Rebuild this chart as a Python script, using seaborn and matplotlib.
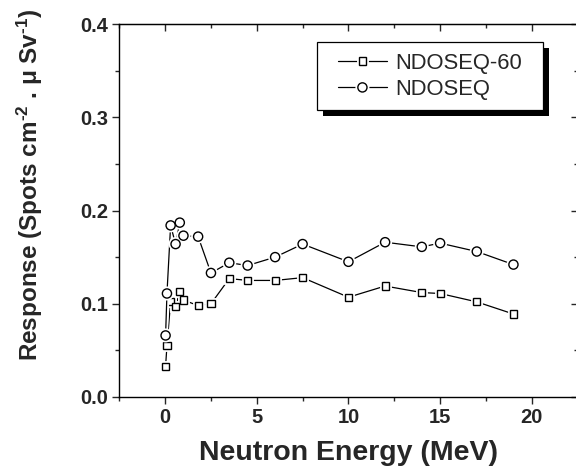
import pandas as pd
import matplotlib
matplotlib.use('Agg')
import matplotlib.pyplot as plt
import matplotlib.patheffects as pe
from matplotlib.patches import Rectangle
from matplotlib.ticker import MultipleLocator, FormatStrFormatter
import seaborn as sns

# energies (MeV) and responses
energy = [0.025, 0.1, 0.3, 0.57, 0.8, 1.0, 1.8, 2.5, 3.5, 4.5, 6.0, 7.5,
          10.0, 12.0, 14.0, 15.0, 17.0, 19.0]
resp_ndoseq60 = [0.033, 0.055, 0.102, 0.097, 0.113, 0.104, 0.098, 0.100,
                 0.127, 0.125, 0.125, 0.128, 0.107, 0.119, 0.112, 0.111,
                 0.102, 0.089]
resp_ndoseq = [0.066, 0.111, 0.184, 0.164, 0.187, 0.173, 0.172, 0.133,
               0.144, 0.141, 0.150, 0.164, 0.145, 0.166, 0.161, 0.165,
               0.156, 0.142]

df60 = pd.DataFrame({'energy': energy, 'response': resp_ndoseq60})
df = pd.DataFrame({'energy': energy, 'response': resp_ndoseq})

sns.set_style('ticks')
plt.rcParams['font.family'] = ['Liberation Sans', 'DejaVu Sans']
plt.rcParams['mathtext.fontset'] = 'custom'
plt.rcParams['mathtext.rm'] = 'Liberation Sans:bold'
plt.rcParams['mathtext.it'] = 'Liberation Sans:bold'
plt.rcParams['mathtext.bf'] = 'Liberation Sans:bold'

fig = plt.figure(figsize=(5.76, 4.67), dpi=100)
ax = fig.add_axes([0.2071, 0.1499, 0.7957, 0.7987])

# white halo around markers gives the small gap between line and symbol
halo = [pe.Stroke(linewidth=3.5, foreground='white'), pe.Normal()]
sns.lineplot(data=df60, x='energy', y='response', ax=ax, color='black',
             linewidth=0.9, marker='s', markersize=5.2, markerfacecolor='white',
             markeredgecolor='black', markeredgewidth=1.0, errorbar=None,
             label='NDOSEQ-60', path_effects=halo)
sns.lineplot(data=df, x='energy', y='response', ax=ax, color='black',
             linewidth=0.9, marker='o', markersize=6.6, markerfacecolor='white',
             markeredgecolor='black', markeredgewidth=1.0, errorbar=None,
             label='NDOSEQ', path_effects=halo)

ax.set_xlim(-2.5, 22.5)
ax.set_ylim(0, 0.4)
ax.xaxis.set_major_locator(MultipleLocator(5))
ax.xaxis.set_minor_locator(MultipleLocator(2.5))
ax.yaxis.set_major_locator(MultipleLocator(0.1))
ax.yaxis.set_minor_locator(MultipleLocator(0.05))
ax.yaxis.set_major_formatter(FormatStrFormatter('%.1f'))
ax.tick_params(which='major', direction='out', length=5, width=1,
               labelsize=14.5, pad=3)
ax.tick_params(which='minor', direction='out', length=3, width=1)
for lab in ax.get_xticklabels() + ax.get_yticklabels():
    lab.set_fontweight('bold')
for sp in ax.spines.values():
    sp.set_linewidth(1)
    sp.set_color('black')

# inward ticks on top and right
top = ax.secondary_xaxis('top')
top.xaxis.set_major_locator(MultipleLocator(5))
top.xaxis.set_minor_locator(MultipleLocator(2.5))
top.tick_params(which='major', direction='in', length=5, width=1, labeltop=False)
top.tick_params(which='minor', direction='in', length=3, width=1)
right = ax.secondary_yaxis('right')
right.yaxis.set_major_locator(MultipleLocator(0.1))
right.yaxis.set_minor_locator(MultipleLocator(0.05))
right.tick_params(which='major', direction='in', length=5, width=1, labelright=False)
right.tick_params(which='minor', direction='in', length=3, width=1)

ax.set_xlabel('Neutron Energy (MeV)', fontsize=20.5, fontweight='bold', labelpad=9)
ax.set_ylabel(r'Response (Spots cm$^{\text{-2}}$ . $\mu$ Sv$^{\text{-1}}$)',
              fontsize=17.5, fontweight='bold')
ax.yaxis.set_label_coords(-0.162, 0.568)

# legend box with a hard black drop shadow
bx0, bx1, by0, by1 = 0.4317, 0.925, 0.7686, 0.9507
ax.add_patch(Rectangle((bx0 + 0.013, by0 - 0.016), bx1 - bx0, by1 - by0,
                       transform=ax.transAxes, facecolor='black',
                       edgecolor='none', zorder=4))
ax.add_patch(Rectangle((bx0, by0), bx1 - bx0, by1 - by0,
                       transform=ax.transAxes, facecolor='white',
                       edgecolor='black', linewidth=0.9, zorder=4.5))
leg = ax.legend(loc='center', bbox_to_anchor=((bx0 + bx1) / 2, (by0 + by1) / 2),
                borderaxespad=0, fontsize=15.8, frameon=False,
                handlelength=2.2, handletextpad=0.4, borderpad=0,
                labelspacing=0.25)
leg.set_zorder(5)

fig.savefig('out.png', dpi=100)
